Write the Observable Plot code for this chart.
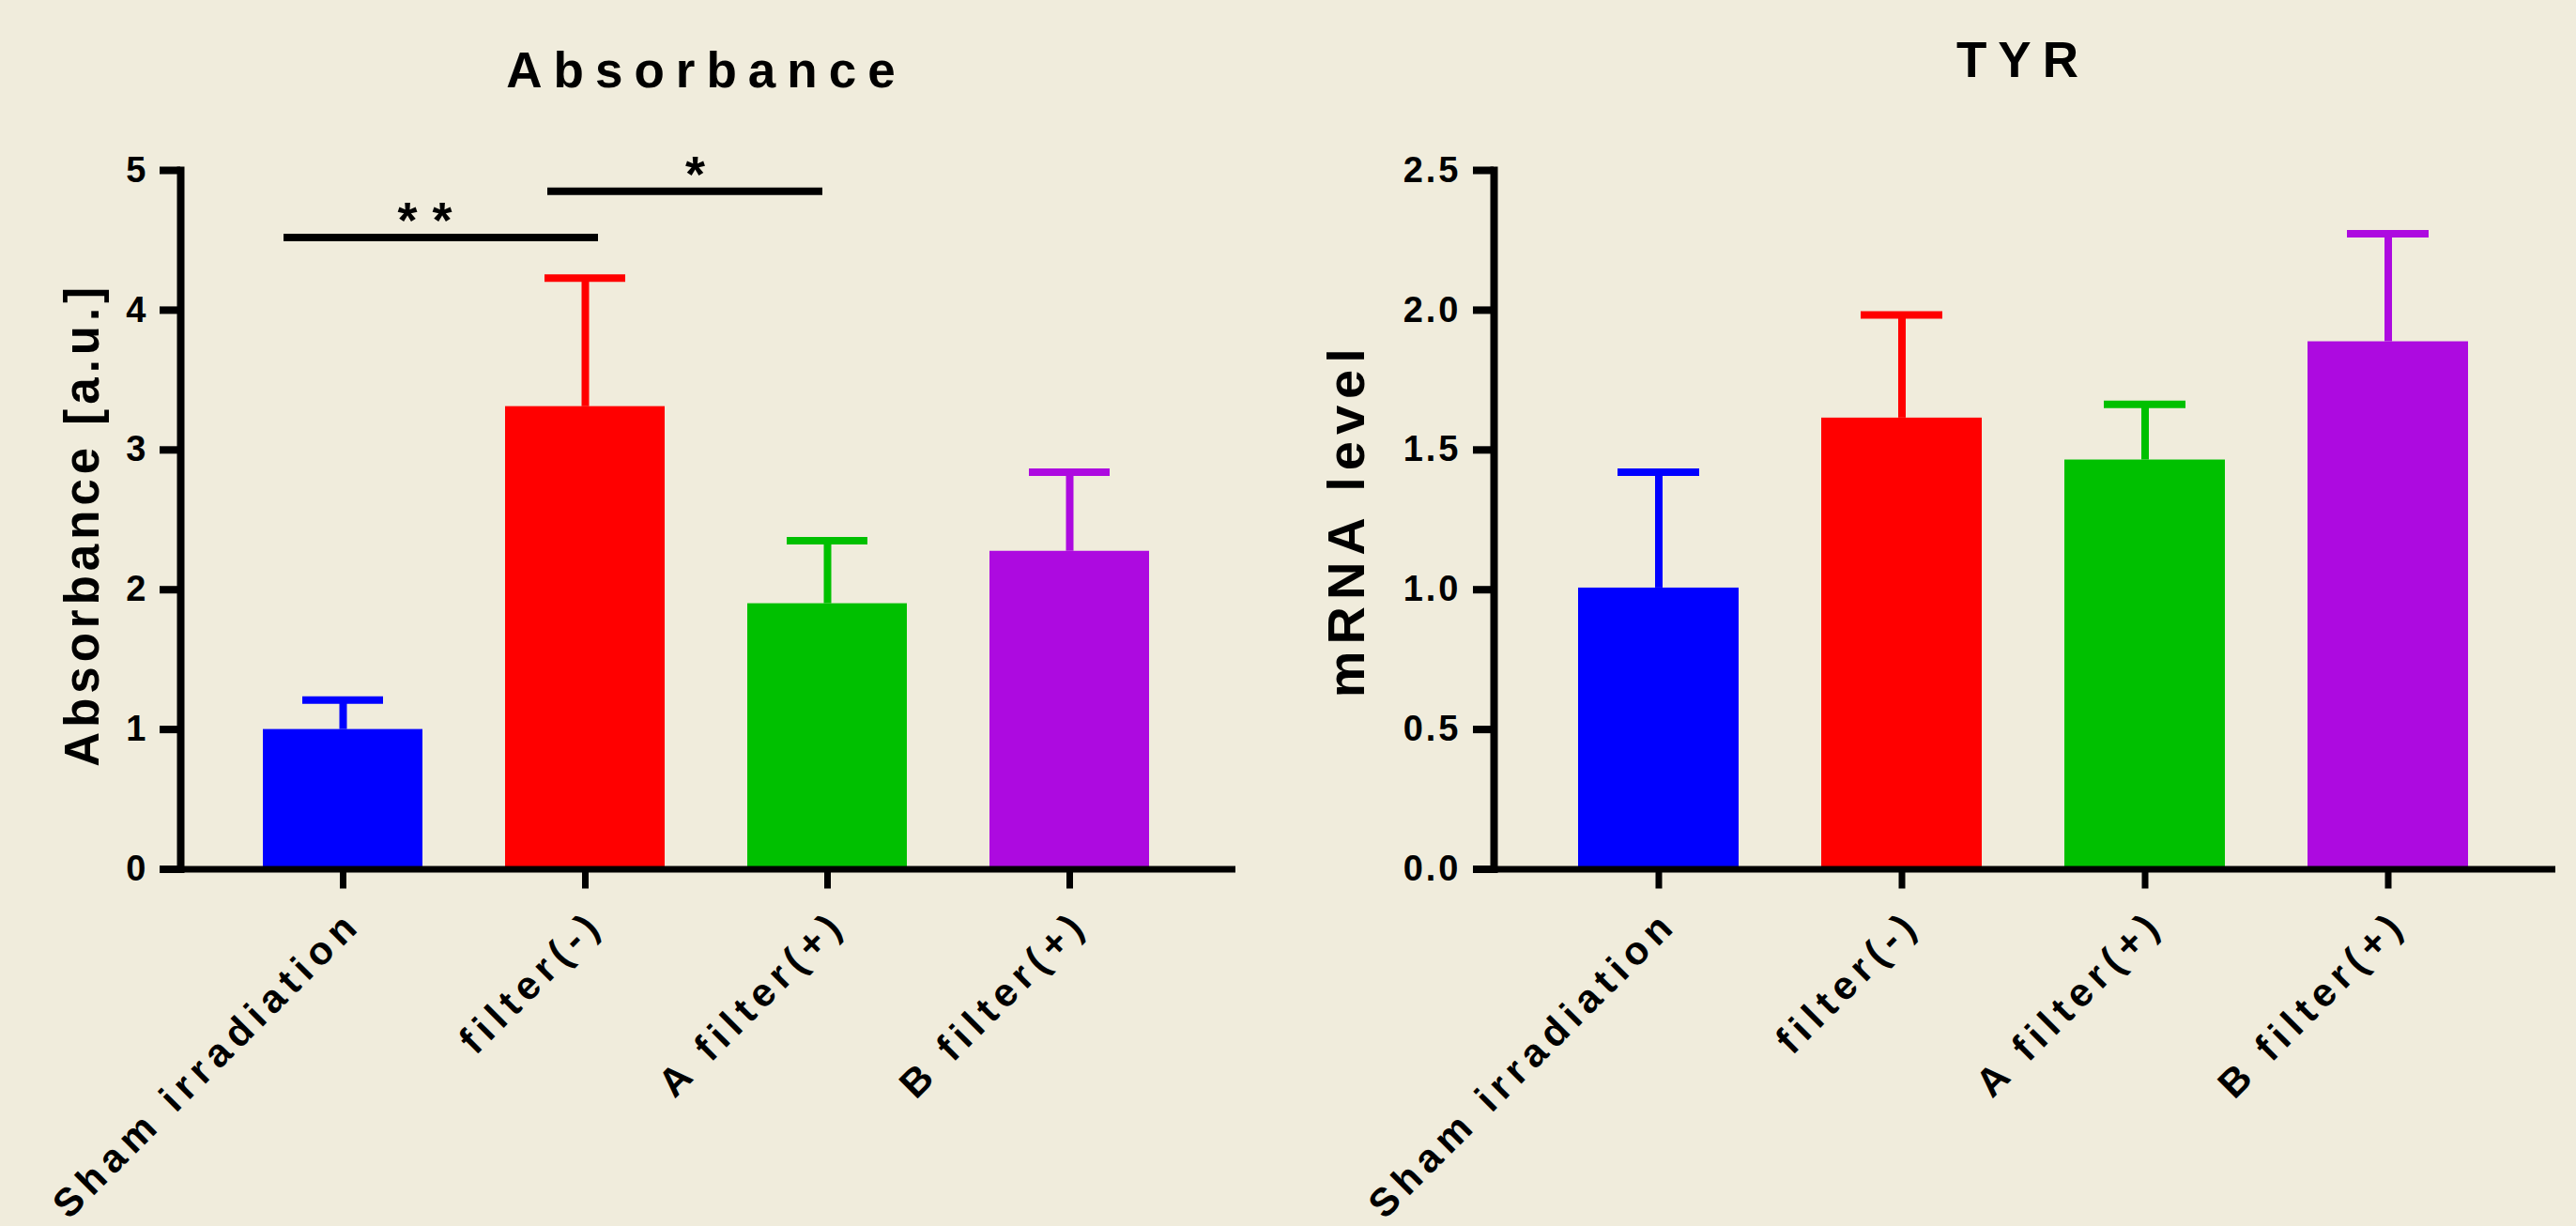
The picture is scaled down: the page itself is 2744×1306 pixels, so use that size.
<!DOCTYPE html>
<html><head><meta charset="utf-8">
<script src="https://cdn.jsdelivr.net/npm/d3@7"></script>
<script src="https://cdn.jsdelivr.net/npm/@observablehq/plot@0.6"></script>
<style>
html,body{margin:0;padding:0;background:#f0ecdc;}
#wrap{display:flex;width:2744px;height:1306px;}
</style></head><body><div id="wrap"></div>
<script>
const categories = ["Sham irradiation", "filter(-)", "A filter(+)", "B filter(+)"];
const barColors = ["#0000ff", "#ff0000", "#00c000", "#ad0ae0"];
const absorbanceMean = [1.00, 3.31, 1.90, 2.275];
const absorbanceErr = [0.21, 0.92, 0.45, 0.565];
const tyrMean = [1.006, 1.614, 1.464, 1.887];
const tyrErr = [0.414, 0.369, 0.199, 0.386];
const absorbanceTicks = [0, 1, 2, 3, 4, 5];
const tyrTicks = [0, 0.5, 1.0, 1.5, 2.0, 2.5];
const sigFrom = ["Sham irradiation", "filter(-)"];
const sigTo = ["filter(-)", "A filter(+)"];
const sigY = [4.52, 4.85];
const sigLabel = ["**", "*"];

const BG = "#f0ecdc";
const FONT = "'Liberation Sans', Arial, Helvetica, sans-serif";

function spacing(svg, texts, px) {
  d3.select(svg).selectAll("text")
    .filter(function () { return texts.includes(this.textContent); })
    .attr("letter-spacing", px);
}

function panel(o) {
  const rows = categories.map((c, i) => ({cat: c, color: barColors[i], v: o.mean[i], top: o.mean[i] + o.err[i]}));
  const marks = [
    Plot.barY(rows, {x: "cat", y: "v", fill: "color"}),
    Plot.ruleX(rows, {x: "cat", y1: "v", y2: "top", stroke: "color", strokeWidth: 8}),
    Plot.tickY(rows, {x: "cat", y: "top", stroke: "color", strokeWidth: 8, insetLeft: 42, insetRight: 42}),
    Plot.frame({anchor: "left", strokeWidth: 8, strokeLinecap: "square"}),
    Plot.frame({anchor: "bottom", strokeWidth: 7}),
    Plot.axisY({ticks: o.ticks, tickFormat: o.format, tickSize: 22, tickPadding: o.tickPad, strokeWidth: 8, fontSize: 38, fontWeight: "bold", label: null}),
    Plot.axisX({tickSize: 21, strokeWidth: 7, tickFormat: () => "", label: null}),
    Plot.text(categories, {x: (d) => d, frameAnchor: "bottom", rotate: -45, textAnchor: "end", lineAnchor: "middle", dx: 12, dy: 51, fontSize: 42, fontWeight: "bold"}),
    Plot.text([o.title], {frameAnchor: "top", textAnchor: "middle", lineAnchor: "bottom", dy: o.titleDy, fontSize: 53, fontWeight: "bold"}),
    Plot.text([o.yLabel], {frameAnchor: "left", textAnchor: "middle", lineAnchor: "bottom", rotate: -90, dx: o.yLabelDx, dy: o.yLabelDy, fontSize: o.yLabelSize, fontWeight: "bold"})
  ];
  if (o.sig) {
    const sig = sigFrom.map((f, i) => ({from: f, to: sigTo[i], y: sigY[i], label: sigLabel[i]}));
    const insets = [[22, 71], [45, 90]];
    const starDx = [95, 125];
    sig.forEach((s, i) => {
      marks.push(Plot.ruleY([s], {x1: "from", x2: "to", y: "y", strokeWidth: 8, insetLeft: insets[i][0], insetRight: insets[i][1]}));
      marks.push(Plot.text([s], {x: "from", y: "y", text: "label", textAnchor: "middle", dx: starDx[i], dy: 0, lineAnchor: "bottom", fontSize: 54, fontWeight: "bold"}));
    });
  }
  const svg = Plot.plot({
    width: 1372, height: 1306,
    marginLeft: o.marginLeft, marginRight: o.marginRight, marginTop: 181, marginBottom: 380.5,
    style: {background: BG, fontFamily: FONT, color: "black", overflow: "visible"},
    x: {domain: categories, padding: 0.34, axis: null},
    y: {domain: o.domain, axis: null},
    marks
  });
  spacing(svg, categories, 7);
  spacing(svg, o.ticks.map(o.format), 3);
  spacing(svg, [o.title], 12);
  spacing(svg, [o.yLabel], o.yLabelSpacing);
  if (o.sig) spacing(svg, sigLabel, 16);
  return svg;
}

const wrap = document.getElementById("wrap");
wrap.appendChild(panel({
  title: "Absorbance", titleDy: -89, yLabel: "Absorbance [a.u.]", yLabelSize: 51, yLabelSpacing: 5,
  yLabelDx: -88, yLabelDy: 5, mean: absorbanceMean, err: absorbanceErr,
  domain: [0, 5], ticks: absorbanceTicks, format: d3.format("d"), tickPad: 12,
  marginLeft: 192, marginRight: 60, sig: true
}));
wrap.appendChild(panel({
  title: "TYR", titleDy: -100, yLabel: "mRNA level", yLabelSize: 56, yLabelSpacing: 7,
  yLabelDx: -139, yLabelDy: 0, mean: tyrMean, err: tyrErr,
  domain: [0, 2.5], ticks: tyrTicks, format: d3.format(".1f"), tickPad: 13,
  marginLeft: 219, marginRight: 26, sig: false
}));
</script></body></html>
